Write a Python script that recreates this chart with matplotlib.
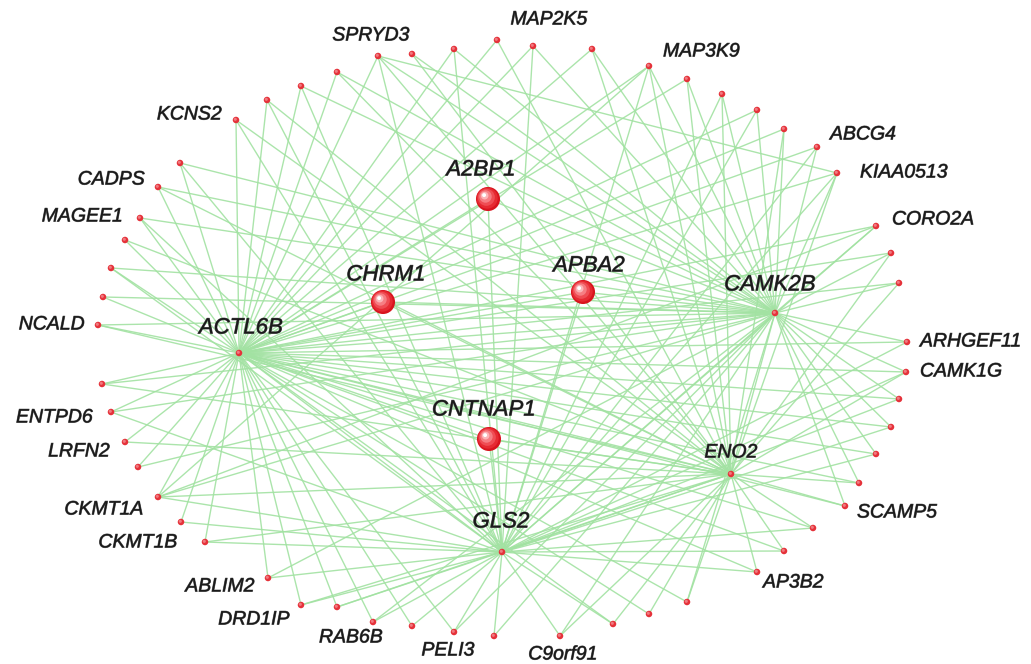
import matplotlib
matplotlib.use("Agg")
import matplotlib.pyplot as plt
import matplotlib.transforms as mtransforms
import matplotlib.patheffects as pe
from matplotlib.collections import LineCollection

# ---------------- data ----------------
# outer ring genes (labels; '' = unlabeled node)
outer_labels = ['', '', '', 'SPRYD3', '', '', '', 'KCNS2', '', 'CADPS', 'MAGEE1', '', '', '',
                'NCALD', '', 'ENTPD6', 'LRFN2', '', 'CKMT1A', '', 'CKMT1B', 'ABLIM2', 'DRD1IP',
                '', 'RAB6B', '', 'PELI3', '', 'C9orf91', '', '', '', 'AP3B2', '', '', 'SCAMP5',
                '', '', '', '', 'CAMK1G', 'ARHGEF11', '', '', 'CORO2A', 'KIAA0513', 'ABCG4',
                '', '', '', '', 'MAP3K9', '', 'MAP2K5']
# layout of outer ring (pixel-like layout units)
outer_x = [497, 454, 412, 378, 337, 301, 267, 236, 180, 158, 140, 125, 111, 103,
           98, 102, 111, 125, 138, 158, 181, 205, 268, 301,
           337, 373, 412, 454, 494, 560, 613, 649, 687, 757, 784, 813, 845,
           859, 876, 891, 899, 906, 907, 899, 891, 876, 837, 817,
           784, 757, 722, 687, 649, 592, 533]
outer_y = [40, 49, 54, 56, 72, 86, 100, 120, 163, 187, 218, 240, 268, 297,
           325, 384, 412, 442, 467, 497, 522, 542, 578, 605,
           607, 622, 626, 632, 636, 636, 624, 614, 602, 572, 551, 528, 506,
           483, 454, 427, 399, 372, 342, 283, 253, 226, 173, 147,
           129, 110, 94, 79, 66, 49, 46]
# hub links of each outer node (A=ACTL6B, C=CAMK2B, E=ENO2, G=GLS2)
outer_links = ['AE', 'GAC', 'CE', 'ACEG', 'CEA', 'AGC', 'AEG', 'AGE', 'ACG', 'ACE', 'ACG', 'AE',
               'ACG', 'AC', 'ACE', 'AEC', 'AGC', 'AE', 'AC', 'ACEG', 'AG', 'AEG', 'AGC', 'AGE',
               'AGE', 'AGC', 'AG', 'GAC', 'GC', 'GEC', 'EAG', 'EA', 'ECA', 'GAE', 'EGA', 'EGA',
               'EAC', 'ECA', 'CGA', 'CGA', 'CAG', 'CAEG', 'CGA', 'CEA', 'CEA', 'CAG', 'CEGA',
               'CAG', 'CAE', 'CGA', 'CGE', 'AEC', 'AEGC', 'ACE', 'GAC']
extra_links = [('SPRYD3', 'KIAA0513'), ('CKMT1A', 'CORO2A'), ('MAP3K9', 'CKMT1A')]

# hub genes (small nodes)
hub_names = ['ACTL6B', 'CAMK2B', 'ENO2', 'GLS2']
hub_codes = ['A', 'C', 'E', 'G']
hub_x = [239, 775, 731, 502]
hub_y = [353, 313, 474, 552]
hub_links = ['CEG', 'EG', 'G', '']

# seed genes (large spheres)
seed_names = ['A2BP1', 'CHRM1', 'APBA2', 'CNTNAP1']
seed_x = [488, 383, 583, 489]
seed_y = [199, 302, 292, 439]
seed_links = ['GAC', 'ACE', 'GAC', 'GAE']

# label anchors (layout) : name -> (x, y, ha)
label_pos = {
    'SPRYD3': (371, 36, 'center'), 'MAP2K5': (549, 20, 'center'), 'MAP3K9': (663, 52, 'left'),
    'ABCG4': (830, 135, 'left'), 'KIAA0513': (860, 173, 'left'), 'CORO2A': (892, 220, 'left'),
    'ARHGEF11': (920, 342, 'left'), 'CAMK1G': (920, 372, 'left'), 'SCAMP5': (857, 513, 'left'),
    'AP3B2': (763, 583, 'left'), 'C9orf91': (563, 655, 'center'), 'PELI3': (448, 651, 'center'),
    'RAB6B': (351, 638, 'center'), 'DRD1IP': (254, 620, 'center'), 'ABLIM2': (220, 587, 'center'),
    'CKMT1B': (138, 543, 'center'), 'CKMT1A': (104, 510, 'center'), 'LRFN2': (110, 452, 'right'),
    'ENTPD6': (93, 418, 'right'), 'NCALD': (85, 325, 'right'), 'MAGEE1': (123, 217, 'right'),
    'CADPS': (145, 180, 'right'), 'KCNS2': (222, 115, 'right'),
    'ACTL6B': (241, 328, 'center'), 'CAMK2B': (770, 285, 'center'), 'ENO2': (731, 453, 'center'),
    'GLS2': (501, 522, 'center'), 'A2BP1': (481, 170, 'center'), 'CHRM1': (386, 275, 'center'),
    'APBA2': (589, 266, 'center'), 'CNTNAP1': (484, 410, 'center'),
}

# ---------------- build ----------------
W, H = 1031, 664
fig = plt.figure(figsize=(W / 100, H / 100), dpi=100)
ax = fig.add_axes([0, 0, 1, 1])
ax.set_xlim(0, W)
ax.set_ylim(H, 0)
ax.axis('off')

hub_pos = {c: (x, y) for c, x, y in zip(hub_codes, hub_x, hub_y)}
name_pos = {}
for lab, x, y in zip(outer_labels, outer_x, outer_y):
    if lab:
        name_pos[lab] = (x, y)

segs = []
for x, y, links in zip(outer_x, outer_y, outer_links):
    for c in links:
        segs.append([(x, y), hub_pos[c]])
for x, y, links in zip(seed_x, seed_y, seed_links):
    for c in links:
        segs.append([(x, y), hub_pos[c]])
for c0, links in zip(hub_codes, hub_links):
    for c in links:
        segs.append([hub_pos[c0], hub_pos[c]])
for a, b in extra_links:
    segs.append([name_pos[a], name_pos[b]])

lc = LineCollection(segs, colors='#a2e2a2', linewidths=1.0, alpha=0.9, zorder=1)
ax.add_collection(lc)

# small nodes
ax.scatter(outer_x, outer_y, s=22, color='#e5323a', edgecolors='none', zorder=3)
ax.scatter(hub_x, hub_y, s=22, color='#e5323a', edgecolors='none', zorder=3)
hl = mtransforms.offset_copy(ax.transData, fig=fig, x=-0.5, y=0.5, units='points')
ax.scatter(outer_x + hub_x, outer_y + hub_y, s=5, color='#f07a80', edgecolors='none',
           zorder=4, transform=hl)

# large spheres with shading
shades = [(300, '#d8141e', 0.0), (230, '#e62a32', 0.6), (150, '#ef4d54', 1.2),
          (80, '#f67e83', 1.8), (30, '#fbb5b8', 2.4), (8, '#ffffff', 2.8)]
for s, col, off in shades:
    tr = mtransforms.offset_copy(ax.transData, fig=fig, x=-off, y=off, units='points')
    ax.scatter(seed_x, seed_y, s=s, color=col, edgecolors='none', zorder=5, transform=tr)

# labels
big = set(seed_names) | {'ACTL6B', 'CAMK2B', 'GLS2'}
for name, (x, y, ha) in label_pos.items():
    fs = 16 if name in big else 14
    ax.text(x, y, name, ha=ha, va='center', fontsize=fs, style='italic',
            family=['Liberation Sans', 'DejaVu Sans'], color='#1a1a1a', zorder=6,
            path_effects=[pe.withStroke(linewidth=0.6, foreground='#666666')])

fig.savefig('out.png', dpi=100, facecolor='white')
